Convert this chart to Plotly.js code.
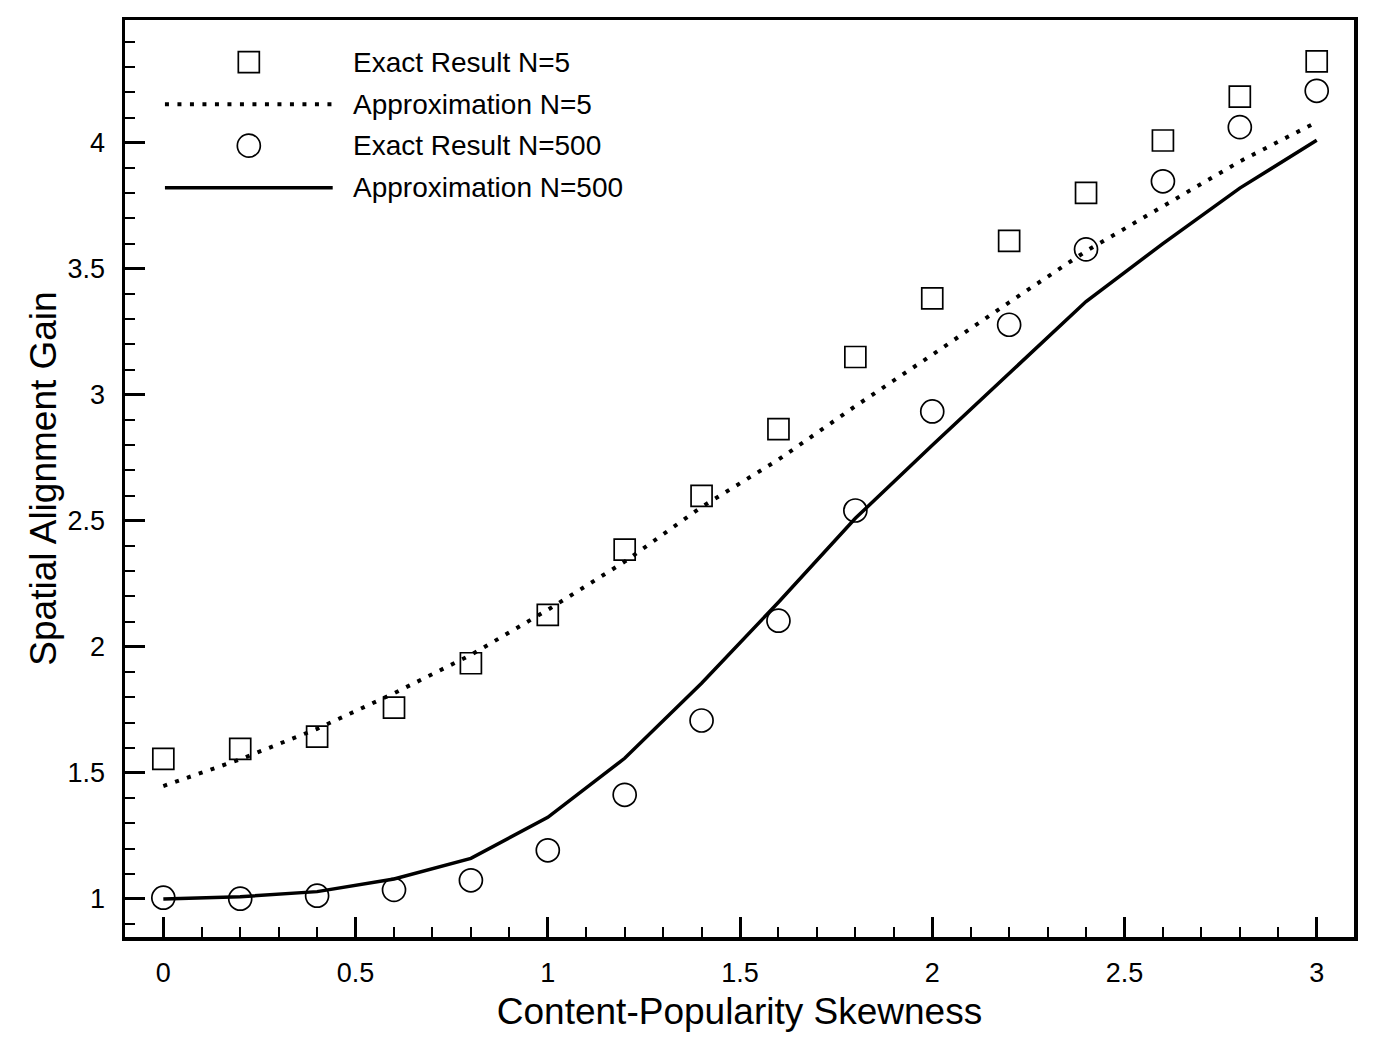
<!DOCTYPE html>
<html>
<head>
<meta charset="utf-8">
<script src="https://cdn.plot.ly/plotly-3.0.1.min.js"></script>
<style>
  html, body { margin: 0; padding: 0; background: #ffffff; }
  #chart { width: 1375px; height: 1042px; }
</style>
</head>
<body>
<div id="chart"></div>
<script>
// ---- data ----
const skewness = [0, 0.2, 0.4, 0.6, 0.8, 1.0, 1.2, 1.4, 1.6, 1.8, 2.0, 2.2, 2.4, 2.6, 2.8, 3.0];
const exactN5 = [1.556, 1.595, 1.644, 1.759, 1.935, 2.127, 2.386, 2.599, 2.864, 3.150, 3.383, 3.611, 3.801, 4.009, 4.183, 4.323];
const approxN5 = [1.448, 1.554, 1.675, 1.816, 1.968, 2.147, 2.338, 2.555, 2.743, 2.955, 3.159, 3.367, 3.570, 3.750, 3.926, 4.082];
const exactN500 = [1.005, 1.001, 1.013, 1.036, 1.074, 1.193, 1.413, 1.708, 2.104, 2.541, 2.934, 3.278, 3.577, 3.847, 4.062, 4.206];
const approxN500 = [1.000, 1.009, 1.029, 1.079, 1.161, 1.324, 1.558, 1.856, 2.177, 2.510, 2.800, 3.085, 3.370, 3.600, 3.820, 4.010];
const seriesNames = ['Exact Result N=5', 'Approximation N=5', 'Exact Result N=500', 'Approximation N=500'];
const xTitle = 'Content-Popularity Skewness';
const yTitle = 'Spatial Alignment Gain';

const FONT = 'Liberation Sans, Arial, Helvetica, sans-serif';

const traces = [
  { x: skewness, y: approxN5, mode: 'lines', name: seriesNames[1], showlegend: false,
    line: { color: '#000', width: 4, dash: '4px,8.5px' } },
  { x: skewness, y: approxN500, mode: 'lines', name: seriesNames[3], showlegend: false,
    line: { color: '#000', width: 3.5 } },
  { x: skewness, y: exactN5, mode: 'markers', name: seriesNames[0], showlegend: false,
    marker: { symbol: 'square-open', size: 21, color: '#000', line: { width: 1.7, color: '#000' } } },
  { x: skewness, y: exactN500, mode: 'markers', name: seriesNames[2], showlegend: false,
    marker: { symbol: 'circle-open', size: 23, color: '#000', line: { width: 1.7, color: '#000' } } }
];

// custom legend (paper coordinates)
const legRows = [0.954, 0.908, 0.863, 0.817];
const legX0 = 0.0325, legX1 = 0.169, legMid = (legX0 + legX1) / 2, legText = 0.184;
const shapes = [
  { type: 'rect', xref: 'paper', yref: 'paper', xsizemode: 'pixel', ysizemode: 'pixel',
    xanchor: legMid, yanchor: legRows[0], x0: -10.5, x1: 10.5, y0: -10.5, y1: 10.5,
    line: { color: '#000', width: 1.7 } },
  { type: 'line', xref: 'paper', yref: 'paper', x0: legX0, x1: legX1, y0: legRows[1], y1: legRows[1],
    line: { color: '#000', width: 4, dash: '4px,8.5px' } },
  { type: 'circle', xref: 'paper', yref: 'paper', xsizemode: 'pixel', ysizemode: 'pixel',
    xanchor: legMid, yanchor: legRows[2], x0: -11.5, x1: 11.5, y0: -11.5, y1: 11.5,
    line: { color: '#000', width: 1.7 } },
  { type: 'line', xref: 'paper', yref: 'paper', x0: legX0, x1: legX1, y0: legRows[3], y1: legRows[3],
    line: { color: '#000', width: 3.5 } }
];
const annotations = seriesNames.map((n, i) => ({
  text: n, xref: 'paper', yref: 'paper', x: legText, y: legRows[i],
  xanchor: 'left', yanchor: 'middle', showarrow: false,
  font: { family: FONT, size: 28, color: '#000' }
}));

const layout = {
  width: 1375, height: 1042,
  margin: { l: 125, r: 21, t: 20, b: 105 },
  paper_bgcolor: '#fff', plot_bgcolor: '#fff',
  font: { family: FONT, color: '#000' },
  showlegend: false,
  xaxis: {
    range: [-0.0997, 3.097], autorange: false,
    tickvals: [0, 0.5, 1, 1.5, 2, 2.5, 3], ticktext: ['0', '0.5', '1', '1.5', '2', '2.5', '3'],
    ticks: 'inside', ticklen: 20, tickwidth: 3, tickcolor: '#000',
    minor: { dtick: 0.1, tick0: 0, ticks: 'inside', ticklen: 10, tickwidth: 2, tickcolor: '#000', showgrid: false },
    showline: true, linewidth: 3.5, linecolor: '#000', mirror: true,
    showgrid: false, zeroline: false,
    tickfont: { family: FONT, size: 27, color: '#000' },
    ticklabelstandoff: 9,
    title: { text: xTitle, font: { family: FONT, size: 37, color: '#000' }, standoff: 12 },
    automargin: false
  },
  yaxis: {
    range: [0.849, 4.487], autorange: false,
    tickvals: [1, 1.5, 2, 2.5, 3, 3.5, 4], ticktext: ['1', '1.5', '2', '2.5', '3', '3.5', '4'],
    ticks: 'inside', ticklen: 20, tickwidth: 3, tickcolor: '#000',
    minor: { dtick: 0.1, tick0: 0, ticks: 'inside', ticklen: 10, tickwidth: 2, tickcolor: '#000', showgrid: false },
    showline: true, linewidth: 3.5, linecolor: '#000', mirror: true,
    showgrid: false, zeroline: false,
    tickfont: { family: FONT, size: 27, color: '#000' },
    ticklabelstandoff: 11,
    title: { text: yTitle, font: { family: FONT, size: 37, color: '#000' }, standoff: 0 },
    automargin: false
  },
  shapes: shapes,
  annotations: annotations
};

Plotly.newPlot('chart', traces, layout, { staticPlot: true, displayModeBar: false });
</script>
</body>
</html>
